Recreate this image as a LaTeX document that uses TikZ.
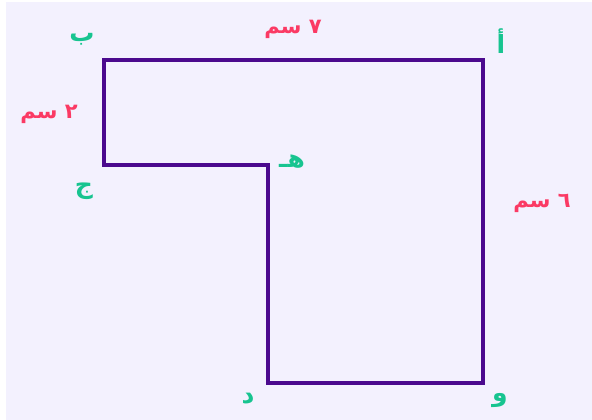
\documentclass[tikz,border=0pt]{standalone}
\usepackage{fontspec}
\TeXXeTstate=1
\newfontfamily\arabicfont[Script=Arabic]{DejaVu Sans}
\definecolor{bgc}{HTML}{F3F1FE}
\definecolor{linec}{HTML}{4B0A8E}
\definecolor{greenc}{HTML}{17C490}
\definecolor{redc}{HTML}{FB3A64}
\tikzset{
  vertexlabel/.style={text=greenc,font=\arabicfont\bfseries\fontsize{25}{30}\selectfont,inner sep=0pt},
  sidelabel/.style={text=redc,font=\arabicfont\bfseries\fontsize{21}{26}\selectfont,inner sep=0pt},
  outline/.style={draw=linec,line width=4.8pt,miter limit=10}
}
\begin{document}
\begin{tikzpicture}[x=1pt,y=-1pt]
\useasboundingbox (0,0) rectangle (592,420);
\fill[bgc] (6,2) rectangle (592,420);
\coordinate (A) at (483,60);
\coordinate (B) at (104,60);
\coordinate (C) at (104,165);
\coordinate (E) at (268,165);
\coordinate (D) at (268,383);
\coordinate (W) at (483,383);
\draw[outline] (A) -- (B) -- (C) -- (E) -- (D) -- (W) -- cycle;
\node[vertexlabel] (la) at (501,41) {\beginR أ\endR};
\node[vertexlabel] (lb) at (82,39) {\beginR ب\endR};
\node[vertexlabel] (lc) at (84,191) {\beginR ج\endR};
\node[vertexlabel] (ld) at (248,399) {\beginR د\endR};
\node[vertexlabel] (le) at (292,162) {\beginR هـ\endR};
\node[vertexlabel] (lw) at (500,401) {\beginR و\endR};
\node[sidelabel] (s7) at (293,29) {\beginR ٧ سم\endR};
\node[sidelabel] (s2) at (49,114) {\beginR ٢ سم\endR};
\node[sidelabel] (s6) at (542,203) {\beginR ٦ سم\endR};
\end{tikzpicture}
\end{document}
